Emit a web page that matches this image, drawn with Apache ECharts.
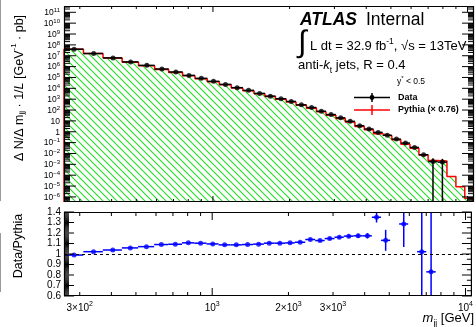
<!DOCTYPE html>
<html>
<head>
<meta charset="utf-8">
<title>dijet mass</title>
<script src="https://cdn.jsdelivr.net/npm/echarts@6.0.0/dist/echarts.min.js"></script>
<style>
  html, body { margin: 0; padding: 0; background: #fff; }
  #chart { width: 476px; height: 327px; }
</style>
</head>
<body>
<div id="chart"></div>
<script>
// m_jj bin edges [GeV]
const binEdges = [260, 310, 370, 440, 510, 590, 670, 760, 850, 950, 1060, 1180, 1310, 1450, 1600, 1760, 1940, 2120,
  2330, 2550, 2780, 3040, 3310, 3610, 3930, 4270, 4640, 5040, 5470, 5940, 6440, 7000, 7630, 8300, 9000, 9750, 10500];
// data, dN/dm / L  [pb/GeV]
const dataVals = [4.0e7, 1.6e7, 6.3e6, 2.7e6, 1.3e6, 6.0e5, 3.2e5, 1.55e5, 8.3e4, 4.4e4, 2.3e4, 1.15e4, 6.5e3, 3.4e3,
  1.9e3, 1.1e3, 620, 300, 170, 78, 38, 19, 9.1, 3.6, 1.8, 0.87, 0.47, 0.21, 0.091, 0.036, 7.6e-3, 1.8e-3, 1.6e-3];
const dataErrDown = [0, 0, 0, 0, 0, 0, 0, 0, 0, 0, 0, 0, 0, 0, 0, 0, 0, 0, 0, 0, 0, 0, 0, 0, 0, 0, 0, 0, 0, 0, 0, 1.8e-3, 1.6e-3];
const dataErrUp = [0, 0, 0, 0, 0, 0, 0, 0, 0, 0, 0, 0, 0, 0, 0, 0, 0, 0, 0, 0, 0, 0, 0, 0, 0, 0, 0, 0, 0, 0, 0, 1.8e-3, 1.6e-3];
// Pythia (x 0.76)
const mcVals = [4.04e7, 1.57e7, 6.07e6, 2.55e6, 1.22e6, 5.5e5, 2.93e5, 1.4e5, 7.5e4, 4.0e4, 2.12e4, 1.06e4, 5.96e3, 3.11e3,
  1.72e3, 997, 561, 270, 149, 69, 33, 16.4, 7.8, 3.07, 1.53, 0.64, 0.42, 0.18, 0.071, 0.03, 7.4e-3, 2.2e-3, 2.0e-3,
  7.4e-5, 8.7e-6, 7.4e-7];
// Data/Pythia
const ratioVals = [0.99, 1.022, 1.038, 1.058, 1.07, 1.09, 1.093, 1.106, 1.103, 1.096, 1.087, 1.087, 1.09, 1.094,
  1.103, 1.103, 1.106, 1.112, 1.138, 1.128, 1.147, 1.16, 1.17, 1.173, 1.173, 1.35, 1.13, null, 1.286, null, 1.022, 0.83, null];
const ratioErr = [0.003, 0.003, 0.003, 0.003, 0.003, 0.004, 0.004, 0.004, 0.004, 0.005, 0.005, 0.005, 0.006, 0.006,
  0.006, 0.007, 0.007, 0.008, 0.009, 0.01, 0.012, 0.014, 0.016, 0.02, 0.025, 0.05, 0.1, null, 0.22, null, 1.2, 1.0, null];

// axis ticks and labels
const xLabelVals = [300, 1000, 2000, 3000, 10000];
const xMajorTicks = [1000, 10000];
const xMinorTicks = [300, 400, 500, 600, 700, 800, 900, 2000, 3000, 4000, 5000, 6000, 7000, 8000, 9000];
const yTopLabelVals = [1e-6, 1e-5, 1e-4, 1e-3, 1e-2, 1e-1, 1, 10, 1e2, 1e3, 1e4, 1e5, 1e6, 1e7, 1e8, 1e9, 1e10, 1e11];
const yRatioLabelVals = [0.6, 0.7, 0.8, 0.9, 1, 1.1, 1.2, 1.3, 1.4];

const xMin = 260, xMax = 10600;
const yMin = 3.4e-7, yMax = 3.8e11;
const rMin = 0.6, rMax = 1.4;
const F = 'Liberation Sans';

function T(size, more) {
  return Object.assign({ fontFamily: F, fontSize: size, fill: '#000' }, more || {});
}

// green hatch
function hatch() {
  const s = 7;
  const c = document.createElement('canvas');
  c.width = s; c.height = s;
  const g = c.getContext('2d');
  g.strokeStyle = '#22dd22';
  g.lineWidth = 1.1;
  g.beginPath();
  g.moveTo(-1, -1); g.lineTo(s + 1, s + 1);
  g.moveTo(-1, s - 1); g.lineTo(1, s + 1);
  g.moveTo(s - 1, -1); g.lineTo(s + 1, 1);
  g.stroke();
  return c;
}

// step outline of the MC histogram
const mcStep = [[binEdges[0], yMin]];
mcVals.forEach(function (v, i) {
  mcStep.push([binEdges[i], v], [binEdges[i + 1], v]);
});
mcStep.push([binEdges[mcVals.length], yMin]);

const dataItems = dataVals.map(function (v, i) {
  const lo = binEdges[i], hi = binEdges[i + 1];
  return [(lo + hi) / 2, v, lo, hi, dataErrDown[i], dataErrUp[i]];
});
const ratioItems = [];
ratioVals.forEach(function (v, i) {
  if (v == null) return;
  const lo = binEdges[i], hi = binEdges[i + 1];
  ratioItems.push([(lo + hi) / 2, v, lo, hi, ratioErr[i], ratioErr[i]]);
});

function errBars(color, width, lowLim, highLim) {
  return function (params, api) {
    const c = api.value(0), v = api.value(1);
    const a = api.coord([api.value(2), v]);
    const b = api.coord([api.value(3), v]);
    const st = { stroke: color, lineWidth: width };
    const ch = [{ type: 'line', shape: { x1: a[0], y1: a[1], x2: b[0], y2: b[1] }, style: st }];
    const eDn = api.value(4), eUp = api.value(5);
    if (eDn > 0 || eUp > 0) {
      const p1 = api.coord([c, Math.min(v + eUp, highLim)]);
      const p2 = api.coord([c, Math.max(v - eDn, lowLim)]);
      ch.push({ type: 'line', shape: { x1: p1[0], y1: p1[1], x2: p2[0], y2: p2[1] }, style: st });
    }
    return { type: 'group', children: ch };
  };
}

// tick marks on all four sides, frame on top
function tickItems(xRef, yRef, xLong, xShort, yMaj, yMinL, yMinR, yLong, yShort) {
  const out = [[xRef, yRef, 2, 0]];
  xMajorTicks.forEach(function (v) { out.push([v, yRef, 0, xLong]); });
  xMinorTicks.forEach(function (v) { out.push([v, yRef, 0, xShort]); });
  yMaj.forEach(function (v) { out.push([xRef, v, 1, yLong]); out.push([xRef, v, 3, yLong]); });
  yMinL.forEach(function (v) { out.push([xRef, v, 1, yShort]); });
  yMinR.forEach(function (v) { out.push([xRef, v, 3, yShort]); });
  return out;
}
function tickRender(params, api) {
  const cs = params.coordSys;
  const kind = api.value(2), len = api.value(3);
  const st = { stroke: '#000', lineWidth: 1, fill: null };
  if (kind === 2) {
    return { type: 'rect', shape: { x: cs.x + 0.5, y: cs.y + 0.5, width: cs.width - 1, height: cs.height - 1 }, style: { stroke: '#000', lineWidth: 1.2, fill: null } };
  }
  const p = api.coord([api.value(0), api.value(1)]);
  if (kind === 0) {
    const x = p[0], yb = cs.y + cs.height, yt = cs.y;
    return { type: 'group', children: [
      { type: 'line', shape: { x1: x, y1: yb, x2: x, y2: yb - len }, style: st },
      { type: 'line', shape: { x1: x, y1: yt, x2: x, y2: yt + len }, style: st }
    ] };
  }
  const y = p[1];
  if (kind === 1) return { type: 'line', shape: { x1: cs.x, y1: y, x2: cs.x + len, y2: y }, style: st };
  return { type: 'line', shape: { x1: cs.x + cs.width - len, y1: y, x2: cs.x + cs.width, y2: y }, style: st };
}

const yTopMinor = [];
for (let e = -7; e <= 11; e++) {
  for (let m = 2; m <= 9; m++) {
    const v = m * Math.pow(10, e);
    if (v > yMin && v < yMax) yTopMinor.push(v);
  }
}
const rMinorL = [], rMinorR = [];
for (let k = 60; k <= 140; k++) {
  if (k % 10 !== 0) rMinorL.push(k / 100);
  if (k % 5 === 0 && k % 10 !== 0) rMinorR.push(k / 100);
}

function xFmt(v) {
  const e = Math.floor(Math.log10(v) + 1e-9);
  const m = Math.round(v / Math.pow(10, e));
  return '{b|' + (m === 1 ? '' : m + '×') + '10}{s|' + e + '}';
}
function yTopFmt(v) {
  const e = Math.round(Math.log10(v));
  if (e === 0) return '{b|1}';
  if (e === 1) return '{b|10}';
  return '{b|10}{s|' + String(e).replace('-', '−') + '}';
}
function rFmt(v) {
  return String(Math.round(v * 10) / 10);
}

const noAxis = { axisLine: { show: false }, axisTick: { show: false }, splitLine: { show: false } };

const option = {
  animation: false,
  backgroundColor: '#fff',
  textStyle: { fontFamily: F },
  grid: [
    { left: 64, top: 6, width: 410, height: 196 },
    { left: 64, top: 212, width: 410, height: 84 }
  ],
  xAxis: [
    Object.assign({ type: 'log', gridIndex: 0, min: xMin, max: xMax, axisLabel: { show: false } }, noAxis),
    Object.assign({ type: 'log', gridIndex: 1, min: xMin, max: xMax,
      axisLabel: { customValues: xLabelVals, formatter: xFmt, margin: 5, color: '#000', fontSize: 10,
        rich: { b: { fontSize: 10, lineHeight: 12, verticalAlign: 'bottom' }, s: { fontSize: 7, lineHeight: 7, verticalAlign: 'top' } } } }, noAxis)
  ],
  yAxis: [
    Object.assign({ type: 'log', gridIndex: 0, min: yMin, max: yMax,
      axisLabel: { customValues: yTopLabelVals, formatter: yTopFmt, margin: 4, color: '#000', fontSize: 8,
        rich: { b: { fontSize: 8.5, lineHeight: 10, verticalAlign: 'bottom' }, s: { fontSize: 6, lineHeight: 6, verticalAlign: 'top' } } } }, noAxis),
    Object.assign({ type: 'value', gridIndex: 1, min: rMin, max: rMax,
      axisLabel: { customValues: yRatioLabelVals, formatter: rFmt, margin: 3, color: '#000', fontSize: 10 } }, noAxis)
  ],
  series: [
    {
      type: 'line', xAxisIndex: 0, yAxisIndex: 0, data: mcStep, symbol: 'none', z: 2,
      lineStyle: { color: '#ff0000', width: 1.5 },
      areaStyle: { origin: 'start', opacity: 1, color: { image: hatch(), repeat: 'repeat' } }
    },
    {
      type: 'custom', xAxisIndex: 0, yAxisIndex: 0, data: dataItems, encode: { x: 0, y: 1 }, z: 4,
      renderItem: errBars('#000', 1.5, yMin, yMax)
    },
    {
      type: 'scatter', xAxisIndex: 0, yAxisIndex: 0, z: 5, symbol: 'circle', symbolSize: 5,
      itemStyle: { color: '#000' }, data: dataItems.map(function (d) { return [d[0], d[1]]; })
    },
    {
      type: 'custom', xAxisIndex: 0, yAxisIndex: 0, z: 6, encode: { x: 0, y: 1 }, renderItem: tickRender,
      data: tickItems(1000, 1, 6, 3, yTopLabelVals, yTopMinor, yTopMinor, 12, 6)
    },
    {
      type: 'custom', xAxisIndex: 1, yAxisIndex: 1, data: ratioItems, encode: { x: 0, y: 1 }, z: 4,
      renderItem: errBars('#0000ff', 1.5, rMin, rMax),
      markLine: { silent: true, symbol: 'none', label: { show: false },
        lineStyle: { color: '#000', width: 1, type: [3, 3] }, data: [{ yAxis: 1 }] }
    },
    {
      type: 'scatter', xAxisIndex: 1, yAxisIndex: 1, z: 5, symbol: 'circle', symbolSize: 5,
      itemStyle: { color: '#0000ff' }, data: ratioItems.map(function (d) { return [d[0], d[1]]; })
    },
    {
      type: 'custom', xAxisIndex: 1, yAxisIndex: 1, z: 6, encode: { x: 0, y: 1 }, renderItem: tickRender,
      data: tickItems(1000, 1, 8, 4, yRatioLabelVals, rMinorL, rMinorR, 10, 5)
    }
  ],
  graphic: [
    { type: 'rect', shape: { x: 0, y: 0, width: 1, height: 201 }, style: { fill: '#9a9a9a' } },
    { type: 'rect', shape: { x: 0, y: 233, width: 1, height: 59 }, style: { fill: '#9a9a9a' } },
    { type: 'text', x: 300, y: 20, style: T(17.5, { text: 'ATLAS', fontWeight: 'bold', fontStyle: 'italic', verticalAlign: 'middle' }) },
    { type: 'text', x: 366, y: 20, style: T(17.5, { text: 'Internal', verticalAlign: 'middle' }) },
    { type: 'text', x: 298, y: 43, style: T(31, { text: '∫', verticalAlign: 'middle' }) },
    { type: 'text', x: 310, y: 45, style: T(13, { text: '{t|L dt = 32.9 fb}{s|-1}{t|, √s = 13TeV}', verticalAlign: 'middle',
      rich: { t: T(13, { lineHeight: 16, verticalAlign: 'bottom' }), s: T(8.5, { lineHeight: 9, verticalAlign: 'top' }) } }) },
    { type: 'text', x: 298, y: 67, style: T(13, { text: '{t|anti-}{i|k}{b|t}{t| jets, R = 0.4}', verticalAlign: 'middle',
      rich: { t: T(13, { lineHeight: 16, verticalAlign: 'top' }), i: T(13, { fontStyle: 'italic', lineHeight: 16, verticalAlign: 'top' }),
        b: T(8.5, { lineHeight: 9, verticalAlign: 'bottom' }) } }) },
    { type: 'text', x: 397, y: 81, style: T(8.5, { text: '{t|y}{s|*}{t| < 0.5}', verticalAlign: 'middle',
      rich: { t: T(8.5, { lineHeight: 11, verticalAlign: 'bottom' }), s: T(6, { lineHeight: 6, verticalAlign: 'top' }) } }) },
    { type: 'line', shape: { x1: 354, y1: 97.5, x2: 390, y2: 97.5 }, style: { stroke: '#000', lineWidth: 1.5 } },
    { type: 'line', shape: { x1: 372, y1: 93, x2: 372, y2: 102 }, style: { stroke: '#000', lineWidth: 1.5 } },
    { type: 'circle', shape: { cx: 372, cy: 97.5, r: 2.4 }, style: { fill: '#000' } },
    { type: 'text', x: 398, y: 97.5, style: T(9, { text: 'Data', fontWeight: 'bold', verticalAlign: 'middle' }) },
    { type: 'line', shape: { x1: 354, y1: 110, x2: 390, y2: 110 }, style: { stroke: '#ff0000', lineWidth: 1.5 } },
    { type: 'line', shape: { x1: 372, y1: 105, x2: 372, y2: 115 }, style: { stroke: '#ff0000', lineWidth: 1.5 } },
    { type: 'text', x: 398, y: 110, style: T(9, { text: 'Pythia (× 0.76)', fontWeight: 'bold', verticalAlign: 'middle' }) },
    { type: 'text', x: 18, y: 88, rotation: Math.PI / 2, style: T(12.5, {
      text: '{t|Δ N/Δ m}{b|jj}{t| · 1/}{i|L}{t| [GeV}{s|-1}{t| · pb]}', align: 'center', verticalAlign: 'middle',
      rich: { t: T(12.5, { lineHeight: 16, verticalAlign: 'bottom' }), i: T(12.5, { fontStyle: 'italic', lineHeight: 16, verticalAlign: 'bottom' }),
        b: T(8, { lineHeight: 9, verticalAlign: 'bottom' }), s: T(8, { lineHeight: 9, verticalAlign: 'top' }) } }) },
    { type: 'text', x: 19, y: 246, rotation: Math.PI / 2, style: T(12.5, { text: 'Data/Pythia', align: 'center', verticalAlign: 'middle' }) },
    { type: 'text', x: 474, y: 320, style: T(13, {
      text: '{i|m}{b|jj}{t| [GeV]}', align: 'right', verticalAlign: 'middle',
      rich: { t: T(13, { lineHeight: 16, verticalAlign: 'top' }), i: T(13, { fontStyle: 'italic', lineHeight: 16, verticalAlign: 'top' }),
        b: T(8.5, { lineHeight: 9, verticalAlign: 'bottom' }) } }) }
  ]
};

const chart = echarts.init(document.getElementById('chart'));
chart.setOption(option);
</script>
</body>
</html>
